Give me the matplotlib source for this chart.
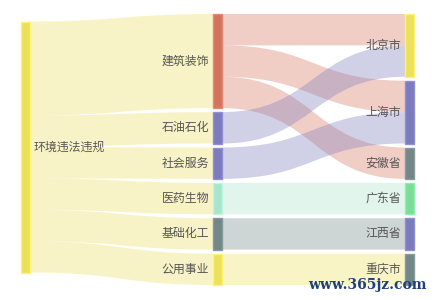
import matplotlib
matplotlib.use('Agg')
import matplotlib.pyplot as plt
from matplotlib.path import Path
from matplotlib.patches import PathPatch, Rectangle
from matplotlib.colors import to_rgb

plt.rcParams['font.family'] = ['Noto Sans CJK SC', 'DejaVu Sans']

# data
node_names = ['环境违法违规', '建筑装饰', '石油石化', '社会服务', '医药生物', '基础化工', '公用事业',
              '北京市', '上海市', '安徽省', '广东省', '江西省', '重庆市']
node_cols = [0, 1, 1, 1, 1, 1, 1, 2, 2, 2, 2, 2, 2]
node_colors = ['#ecdf5c', '#d4735e', '#7b7bbd', '#7b7bbd', '#a9e4cc', '#738788', '#ede05c',
               '#ede05c', '#7b7bbd', '#738788', '#7cdc9a', '#7b7bbd', '#738788']
link_src = ['环境违法违规'] * 6 + ['建筑装饰', '建筑装饰', '建筑装饰', '石油石化', '社会服务',
                                  '医药生物', '基础化工', '公用事业']
link_tgt = ['建筑装饰', '石油石化', '社会服务', '医药生物', '基础化工', '公用事业',
            '北京市', '上海市', '安徽省', '北京市', '上海市', '广东省', '江西省', '重庆市']
link_val = [3, 1, 1, 1, 1, 1, 1, 1, 1, 1, 1, 1, 1, 1]

# layout (pixel units)
W, H = 435, 300
top, bottom = 14, 285
gap = 4
node_w = 9
col_x = [21, 213, 405]

idx = {n: i for i, n in enumerate(node_names)}
n = len(node_names)
vin = [0] * n
vout = [0] * n
for s, t, v in zip(link_src, link_tgt, link_val):
    vout[idx[s]] += v
    vin[idx[t]] += v
nval = [max(a, b) for a, b in zip(vin, vout)]

ncols = max(node_cols) + 1
col_nodes = [[i for i in range(n) if node_cols[i] == c] for c in range(ncols)]
k = min((bottom - top - gap * (len(cn) - 1)) / sum(nval[i] for i in cn) for cn in col_nodes)

ny = [0.0] * n
for cn in col_nodes:
    y = top
    for i in cn:
        ny[i] = y
        y += nval[i] * k + gap

# single node column: center on its neighbours
for cn in col_nodes:
    if len(cn) == 1:
        i = cn[0]
        num, den = 0, 0
        for s, t, v in zip(link_src, link_tgt, link_val):
            if idx[s] == i:
                j = idx[t]
            elif idx[t] == i:
                j = idx[s]
            else:
                continue
            num += (ny[j] + nval[j] * k / 2) * v
            den += v
        ny[i] = num / den - nval[i] * k / 2

fig = plt.figure(figsize=(W / 100, H / 100), dpi=100)
ax = fig.add_axes([0, 0, 1, 1])
ax.set_xlim(0, W)
ax.set_ylim(H, 0)
ax.axis('off')

# links, ordered by the position of the other end
links = list(zip(link_src, link_tgt, link_val))
out_off = {}
in_off = {}
for i in range(n):
    outs = sorted([l for l in links if idx[l[0]] == i], key=lambda l: ny[idx[l[1]]])
    y = ny[i]
    for l in outs:
        out_off[l] = y
        y += l[2] * k
    ins = sorted([l for l in links if idx[l[1]] == i], key=lambda l: ny[idx[l[0]]])
    y = ny[i]
    for l in ins:
        in_off[l] = y
        y += l[2] * k

for l in links:
    s, t = idx[l[0]], idx[l[1]]
    x0 = col_x[node_cols[s]] + node_w
    x1 = col_x[node_cols[t]]
    xm = (x0 + x1) / 2
    y0 = out_off[l]
    y1 = in_off[l]
    h = l[2] * k
    verts = [(x0, y0), (xm, y0), (xm, y1), (x1, y1),
             (x1, y1 + h), (xm, y1 + h), (xm, y0 + h), (x0, y0 + h), (x0, y0)]
    codes = [Path.MOVETO, Path.CURVE4, Path.CURVE4, Path.CURVE4,
             Path.LINETO, Path.CURVE4, Path.CURVE4, Path.CURVE4, Path.CLOSEPOLY]
    ax.add_patch(PathPatch(Path(verts, codes), facecolor=node_colors[s], alpha=0.35,
                           edgecolor='none', zorder=1))

# nodes and labels
for i, name in enumerate(node_names):
    c = node_cols[i]
    x = col_x[c]
    h = nval[i] * k
    rgb = to_rgb(node_colors[i])
    edge = tuple(min(1, v + 0.08) for v in rgb)
    ax.add_patch(Rectangle((x, ny[i]), node_w, h, facecolor=node_colors[i],
                           edgecolor=edge, linewidth=1, zorder=2))
    if c == 0:
        ax.text(x + node_w + 4, ny[i] + h / 2, name, ha='left', va='center',
                fontsize=8.6, color='#555555', zorder=3)
    else:
        ax.text(x - 4, ny[i] + h / 2, name, ha='right', va='center',
                fontsize=8.6, color='#555555', zorder=3)

ax.text(427, 285, 'www.365jz.com', ha='right', va='center', fontsize=10,
        family='DejaVu Serif', fontweight='bold', color='#1f3f7f', zorder=4)

fig.savefig('out.png', dpi=100)
